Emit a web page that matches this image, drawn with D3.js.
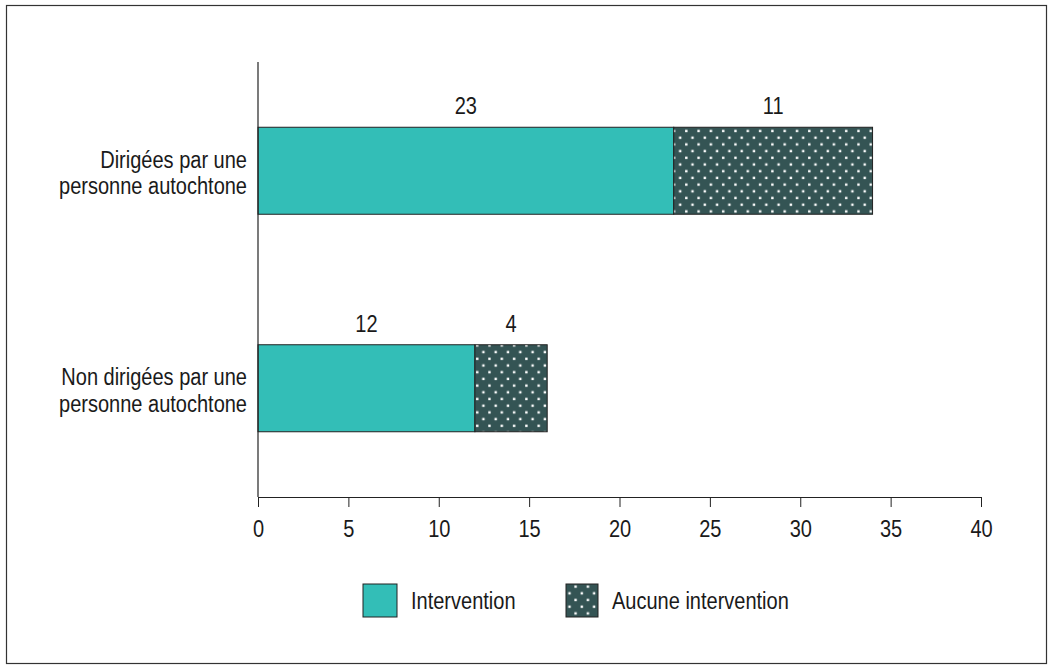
<!DOCTYPE html>
<html>
<head>
<meta charset="utf-8">
<script src="https://cdn.jsdelivr.net/npm/d3@7"></script>
<style>
  body { margin: 0; background: #fff; }
  text { font-family: "Liberation Sans", Arial, sans-serif; fill: #1a1a1a; }
</style>
</head>
<body>
<svg id="chart" width="1053" height="670"></svg>
<script>
// Chart data
const categories = [
  ["Dirigées par une", "personne autochtone"],
  ["Non dirigées par une", "personne autochtone"]
];
const intervention = [23, 12];
const aucuneIntervention = [11, 4];
const seriesNames = ["Intervention", "Aucune intervention"];
const xTicks = [0, 5, 10, 15, 20, 25, 30, 35, 40];

const teal = "#33beb7";
const dark = "#345454";
const fontSize = 23;
// the original uses a narrow face; squeeze the regular one horizontally
const squeeze = 0.87;

const svg = d3.select("#chart");

// place a text at (px, py) and condense it around its anchor
function placeText(sel, px, py) {
  sel.attr("x", 0).attr("y", 0)
    .attr("transform", `translate(${px},${py}) scale(${squeeze},1)`);
  return sel;
}

// Pattern for "Aucune intervention"
const defs = svg.append("defs");
const pat = defs.append("pattern")
  .attr("id", "dots")
  .attr("patternUnits", "userSpaceOnUse")
  .attr("width", 12.3)
  .attr("height", 13.4);
pat.append("rect").attr("width", 12.3).attr("height", 13.4).attr("fill", dark);
pat.append("rect").attr("x", 2.5).attr("y", 2.5).attr("width", 2.4).attr("height", 2.4).attr("fill", "#fff");
pat.append("rect").attr("x", 8.6).attr("y", 9.2).attr("width", 2.4).attr("height", 2.4).attr("fill", "#fff");

// Frame
svg.append("rect")
  .attr("x", 6.5).attr("y", 5.5)
  .attr("width", 1040).attr("height", 658)
  .attr("fill", "none")
  .attr("stroke", "#333")
  .attr("stroke-width", 1.2);

const x = d3.scaleLinear().domain([0, 40]).range([258, 981]);
const y = d3.scaleBand()
  .domain(d3.range(categories.length))
  .range([62, 497])
  .paddingInner(0.6)
  .paddingOuter(0.3);

// Bars
const g = svg.append("g");
const rows = d3.range(categories.length).map(i => ({
  i,
  a: intervention[i],
  b: aucuneIntervention[i]
}));

g.selectAll("rect.a").data(rows).join("rect")
  .attr("class", "a")
  .attr("x", d => x(0))
  .attr("y", d => y(d.i))
  .attr("width", d => x(d.a) - x(0))
  .attr("height", y.bandwidth())
  .attr("fill", teal)
  .attr("stroke", "#222")
  .attr("stroke-width", 1);

g.selectAll("rect.b").data(rows).join("rect")
  .attr("class", "b")
  .attr("x", d => x(d.a))
  .attr("y", d => y(d.i))
  .attr("width", d => x(d.a + d.b) - x(d.a))
  .attr("height", y.bandwidth())
  .attr("fill", "url(#dots)")
  .attr("stroke", "#222")
  .attr("stroke-width", 1);

// Value labels
rows.forEach(d => {
  placeText(g.append("text"), x(d.a / 2), y(d.i) - 13)
    .attr("text-anchor", "middle")
    .attr("font-size", fontSize)
    .text(d.a);
  placeText(g.append("text"), x(d.a + d.b / 2), y(d.i) - 13)
    .attr("text-anchor", "middle")
    .attr("font-size", fontSize)
    .text(d.b);
});

// Category labels
rows.forEach(d => {
  const t = placeText(svg.append("text"), 247, y(d.i) + y.bandwidth() / 2 - 3)
    .attr("text-anchor", "end")
    .attr("font-size", fontSize);
  categories[d.i].forEach((line, k) => {
    t.append("tspan").attr("x", 0).attr("dy", k === 0 ? 0 : 26.5).text(line);
  });
});

// Axes
svg.append("line")
  .attr("x1", x(0)).attr("x2", x(0))
  .attr("y1", 62).attr("y2", 497)
  .attr("stroke", "#222").attr("stroke-width", 1.2);

const xAxis = svg.append("g")
  .attr("transform", "translate(0,497)")
  .call(d3.axisBottom(x).tickValues(xTicks).tickSize(10).tickSizeOuter(0).tickPadding(14));
xAxis.select(".domain").attr("stroke", "#222").attr("stroke-width", 1.2);
xAxis.selectAll(".tick line").attr("stroke", "#222");
xAxis.selectAll(".tick text")
  .attr("font-size", fontSize)
  .attr("font-family", "Liberation Sans, Arial, sans-serif")
  .attr("fill", "#1a1a1a")
  .attr("transform", `scale(${squeeze},1)`);

// Legend
const legend = svg.append("g");
const legendItems = [
  { name: seriesNames[0], fill: teal, x: 363, w: 34 },
  { name: seriesNames[1], fill: "url(#dots)", x: 566, w: 32 }
];
legend.selectAll("rect").data(legendItems).join("rect")
  .attr("x", d => d.x)
  .attr("y", 584)
  .attr("width", d => d.w)
  .attr("height", 33)
  .attr("fill", d => d.fill)
  .attr("stroke", "#222")
  .attr("stroke-width", 1);
legendItems.forEach(d => {
  placeText(legend.append("text"), d.x + d.w + 14, 609)
    .attr("font-size", fontSize)
    .text(d.name);
});
</script>
</body>
</html>
